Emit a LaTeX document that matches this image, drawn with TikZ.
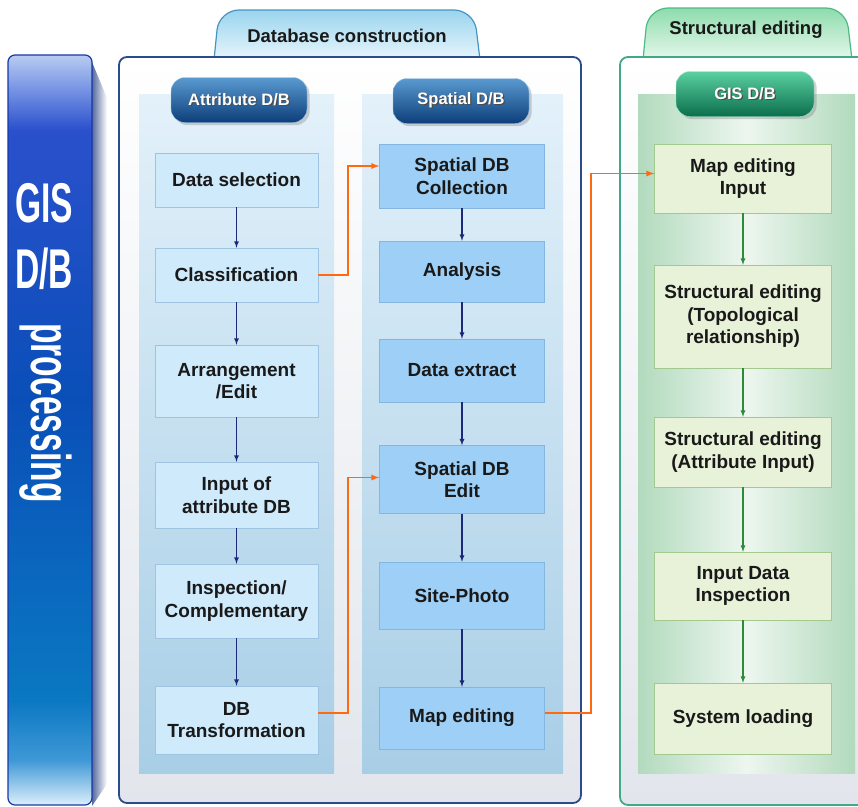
\documentclass[tikz,border=0pt]{standalone}
\usepackage{fontspec}
\setmainfont{Liberation Sans}
\usetikzlibrary{positioning,calc,shadows,arrows}

% colours
\definecolor{barA0}{HTML}{B8CCF0}
\definecolor{barA1}{HTML}{7F9BE6}
\definecolor{barA2}{HTML}{2A50CC}
\definecolor{barB}{HTML}{0A4FB8}
\definecolor{barC}{HTML}{0A78C2}
\definecolor{barD}{HTML}{3F98D6}
\definecolor{barE}{HTML}{DCEFFA}
\definecolor{barEdge}{HTML}{1838A8}
\definecolor{barShadow}{HTML}{55699C}
\definecolor{panelBlue}{HTML}{2B4C8C}
\definecolor{panelGrey}{HTML}{E2E6EC}
\definecolor{panelGreen}{HTML}{3FA98A}
\definecolor{tabBlueTop}{HTML}{9AD4EE}
\definecolor{tabBlueBot}{HTML}{E8F6FC}
\definecolor{tabBlueEdge}{HTML}{4595C4}
\definecolor{tabGreenTop}{HTML}{8EDCAD}
\definecolor{tabGreenBot}{HTML}{E8F8EE}
\definecolor{tabGreenEdge}{HTML}{4DBA84}
\definecolor{colTop}{HTML}{E3F1FA}
\definecolor{colBot}{HTML}{A8CEE6}
\definecolor{gisBg}{HTML}{B2DABD}
\definecolor{gisMid}{HTML}{EDF6EF}
\definecolor{attrFill}{HTML}{CFEAFB}
\definecolor{attrLine}{HTML}{9EC4E2}
\definecolor{spatFill}{HTML}{9ECFF6}
\definecolor{spatLine}{HTML}{84B6E2}
\definecolor{gisFill}{HTML}{E7F2D9}
\definecolor{gisLine}{HTML}{A4C98F}
\definecolor{pillBlueTop}{HTML}{5A9AD0}
\definecolor{pillBlueMid}{HTML}{1A6AAE}
\definecolor{pillBlueBot}{HTML}{0C3E7A}
\definecolor{pillGreenTop}{HTML}{5AD0A0}
\definecolor{pillGreenMid}{HTML}{14A070}
\definecolor{pillGreenBot}{HTML}{0B6E4C}
\definecolor{arrowNavy}{HTML}{1B2A78}
\definecolor{arrowGreen}{HTML}{2E8B3A}
\definecolor{linkOrange}{HTML}{FF6A10}

% glossy bar shading, stops kept inside 25bp..75bp
\pgfdeclareverticalshading{barshade}{100bp}{
  color(0bp)=(barE); color(25bp)=(barE); color(28bp)=(barD);
  color(32bp)=(barC); color(52bp)=(barB); color(70bp)=(barA2);
  color(73bp)=(barA1); color(75bp)=(barA0); color(100bp)=(barA0)}

\newcommand{\boxfont}{\fontsize{19}{22.5}\selectfont\bfseries}
\newcommand{\pillfont}{\fontsize{16.5}{20}\selectfont\bfseries}
\newcommand{\tabfont}{\fontsize{18.5}{22}\selectfont\bfseries}
\newcommand{\barfont}{\fontsize{56}{60}\selectfont\bfseries}
\newcommand{\hdtext}[1]{\makebox[0pt][l]{\hspace{1.2pt}\raisebox{-1.2pt}{\color{black!70}#1}}#1}
\newcommand{\narrow}[1]{\scalebox{0.6}[1]{#1}}

\tikzset{
  attrbox/.style={draw=attrLine, fill=attrFill, minimum width=163pt, align=center, inner sep=2pt, font=\boxfont, text=black!90},
  spatbox/.style={draw=spatLine, fill=spatFill, minimum width=165pt, align=center, inner sep=2pt, font=\boxfont, text=black!90},
  gisbox/.style={draw=gisLine, fill=gisFill, minimum width=177pt, align=center, inner sep=2pt, font=\boxfont, text=black!90},
  bluepill/.style={rounded corners=14pt, top color=pillBlueTop, middle color=pillBlueMid, bottom color=pillBlueBot, draw=pillBlueTop!60, minimum height=45pt, text=white, font=\pillfont, drop shadow={opacity=0.35}},
  greenpill/.style={rounded corners=14pt, top color=pillGreenTop, middle color=pillGreenMid, bottom color=pillGreenBot, draw=pillGreenTop!60, minimum height=45pt, text=white, font=\pillfont, drop shadow={opacity=0.35}},
  tabtext/.style={font=\tabfont, text=black!90},
  bartext/.style={font=\barfont, text=white},
  flow/.style={-latex, draw=arrowNavy, line width=1.2pt},
  gflow/.style={-latex, draw=arrowGreen, line width=1.2pt},
  link/.style={-latex, draw=linkOrange, line width=1.7pt},
}

\begin{document}
\begin{tikzpicture}[x=1pt, y=-1pt]
\useasboundingbox (0,0) rectangle (858,806);

% left bar
\shade[left color=barShadow, right color=white] (92,62) -- (107,98) -- (107,784) -- (92,806) -- cycle;
\shade[shading=barshade, rounded corners=7pt] (8,55) rectangle (92,805);
\draw[barEdge, line width=1.2pt, rounded corners=7pt] (8,55) rectangle (92,805);
\node[bartext, anchor=base] (gislbl) at (44,222) {\narrow{GIS}};
\node[bartext, anchor=base] (dblbl) at (44,288) {\narrow{D/B}};
\node[bartext, anchor=base, rotate=-90] (proclbl) at (31,413) {\narrow{processing}};

% database construction panel
\draw[tabBlueEdge, line width=1.2pt, top color=tabBlueTop, bottom color=tabBlueBot]
  (214,60) [rounded corners=20pt] -- (219,10) -- (474,10) [sharp corners] -- (480,60) -- cycle;
\node[tabtext] (dbtab) at (347,36) {Database construction};
\draw[panelBlue, line width=1.8pt, top color=white, bottom color=panelGrey, rounded corners=8pt]
  (119,57) rectangle (581,803);
\shade[top color=colTop, bottom color=colBot] (139,94) rectangle (334,773);
\shade[top color=colTop, bottom color=colBot] (362,94) rectangle (563,773);

% structural editing panel
\begin{scope}
\clip (0,0) rectangle (858,806);
\draw[tabGreenEdge, line width=1.2pt, top color=tabGreenTop, bottom color=tabGreenBot]
  (643,60) [rounded corners=20pt] -- (648,8) -- (846,8) [sharp corners] -- (852,60) -- cycle;
\draw[panelGreen, line width=1.8pt, top color=white, bottom color=panelGrey, rounded corners=8pt]
  (620,57) rectangle (880,805);
\shade[left color=gisBg, right color=gisBg, middle color=gisMid] (638,94) rectangle (855,773);
\end{scope}
\node[tabtext] (sttab) at (746,30) {Structural editing};

% column headers
\node[bluepill, minimum width=136pt] (attrhd) at (239,100) {\hdtext{Attribute D/B}};
\node[bluepill, minimum width=136pt] (spathd) at (461,101) {\hdtext{Spatial D/B}};
\node[greenpill, minimum width=138pt] (gishd) at (745,94) {\hdtext{GIS D/B}};

% attribute D/B
\node[attrbox, minimum height=54pt] (dsel) at (236.5,180) {Data selection};
\node[attrbox, minimum height=54pt] (clsf) at (236.5,275) {Classification};
\node[attrbox, minimum height=72pt] (arrg) at (236.5,381) {Arrangement\\/Edit};
\node[attrbox, minimum height=66pt] (inpa) at (236.5,495) {Input of\\attribute DB};
\node[attrbox, minimum height=74pt] (insp) at (236.5,601) {Inspection/\\Complementary};
\node[attrbox, minimum height=68pt] (dbtr) at (236.5,720) {DB\\Transformation};

% spatial D/B
\node[spatbox, minimum height=64pt] (sdbc) at (462,176) {Spatial DB\\Collection};
\node[spatbox, minimum height=61pt] (anls) at (462,271.5) {Analysis};
\node[spatbox, minimum height=63pt] (dext) at (462,370.5) {Data extract};
\node[spatbox, minimum height=68pt] (sdbe) at (462,479.5) {Spatial DB\\Edit};
\node[spatbox, minimum height=67pt] (site) at (462,595.5) {Site-Photo};
\node[spatbox, minimum height=62pt] (mped) at (462,718) {Map editing};

% GIS D/B
\node[gisbox, minimum height=69pt] (mpin) at (743,178.5) {Map editing\\Input};
\node[gisbox, minimum height=103pt] (stop) at (743,316.5) {Structural editing\\(Topological\\relationship)};
\node[gisbox, minimum height=70pt] (satt) at (743,452) {Structural editing\\(Attribute Input)};
\node[gisbox, minimum height=68pt] (idin) at (743,586) {Input Data\\Inspection};
\node[gisbox, minimum height=71pt] (sysl) at (743,718.5) {System loading};

% flows inside the columns
\draw[flow] (dsel) -- (clsf);
\draw[flow] (clsf) -- (arrg);
\draw[flow] (arrg) -- (inpa);
\draw[flow] (inpa) -- (insp);
\draw[flow] (insp) -- (dbtr);

\draw[flow] (sdbc) -- (anls);
\draw[flow] (anls) -- (dext);
\draw[flow] (dext) -- (sdbe);
\draw[flow] (sdbe) -- (site);
\draw[flow] (site) -- (mped);

\draw[gflow] (mpin) -- (stop);
\draw[gflow] (stop) -- (satt);
\draw[gflow] (satt) -- (idin);
\draw[gflow] (idin) -- (sysl);

% links between the columns
\draw[link] (clsf.east) -- ++(30,0) |- ([yshift=10pt]sdbc.west);
\draw[link] ([yshift=7pt]dbtr.east) -- ++(30,0) |- ([yshift=2pt]sdbe.west);
\draw[link] ([yshift=5pt]mped.east) -- ++(46,0) |- ([yshift=5pt]mpin.west);

\end{tikzpicture}
\end{document}
